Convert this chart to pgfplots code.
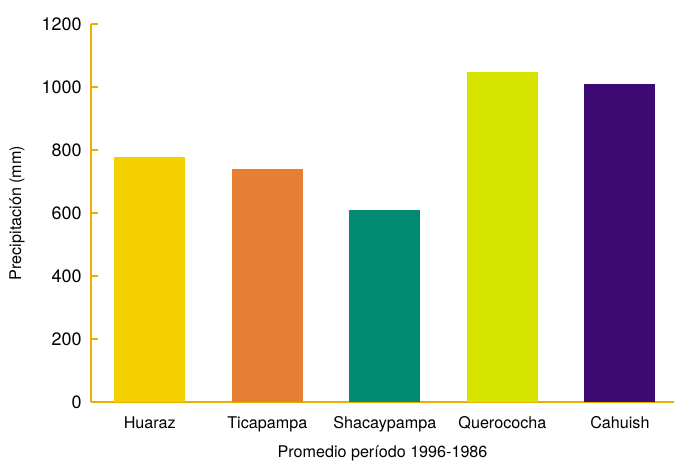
\documentclass[border=0pt]{standalone}
\usepackage{fontspec}
\setmainfont{TeX Gyre Heros}
\usepackage{pgfplots}
\pgfplotsset{compat=1.18}
\definecolor{axc}{HTML}{E8B100}
\definecolor{c1}{HTML}{F5D000}
\definecolor{c2}{HTML}{E67E33}
\definecolor{c3}{HTML}{008B72}
\definecolor{c4}{HTML}{D6E400}
\definecolor{c5}{HTML}{3D0A73}
\begin{document}
\begin{tikzpicture}
\begin{axis}[
  scale only axis, width=583bp, height=378bp,
  xmin=-0.5, xmax=4.46, ymin=0, ymax=1200,
  axis x line*=bottom, axis y line*=left,
  axis line style={axc, line width=2bp},
  ytick={0,200,...,1200},
  xtick={0,1,2,3,4},
  xticklabels={Huaraz,Ticapampa,Shacaypampa,Querococha,Cahuish},
  extra x ticks={0.5,1.5,2.5,3.5},
  extra x tick labels={},
  extra x tick style={major tick length=7bp, tick style={axc, line width=2bp}},
  major tick length=7bp,
  x tick style={draw=none},
  y tick style={axc, line width=2bp},
  tick align=inside,
  ticklabel style={text=black},
  xticklabel style={font=\fontsize{16.2}{19}\selectfont, yshift=-4bp},
  yticklabel style={font=\fontsize{18}{21}\selectfont, xshift=-6bp},
  /pgf/number format/assume math mode=true,
  /pgf/number format/1000 sep={},
  ylabel={Precipitación (mm)},
  xlabel={Promedio período 1996-1986},
  label style={font=\fontsize{16.2}{19}\selectfont},
  ylabel style={yshift=10bp},
  xlabel style={yshift=7bp},
  ybar, bar width=0.604, bar shift=0pt,
  clip=false,
]
\coordinate (O) at (rel axis cs:0,0);
\addplot[fill=c1, draw=none] coordinates {(0,778)};
\addplot[fill=c2, draw=none] coordinates {(1,740)};
\addplot[fill=c3, draw=none] coordinates {(2,610)};
\addplot[fill=c4, draw=none] coordinates {(3,1048)};
\addplot[fill=c5, draw=none] coordinates {(4,1010)};
\end{axis}
\pgfresetboundingbox
\path ([shift={(-91bp,-61bp)}]O) rectangle ++(674bp,463bp);
\end{tikzpicture}
\end{document}
